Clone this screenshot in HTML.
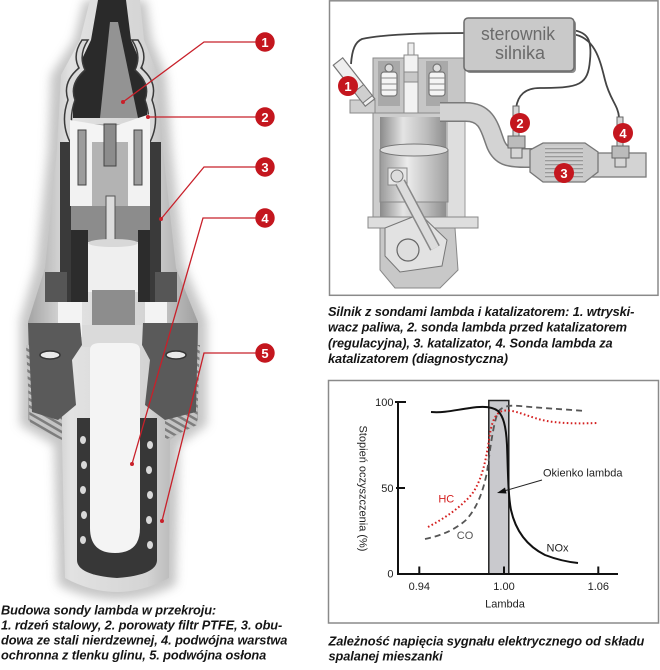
<!DOCTYPE html>
<html><head><meta charset="utf-8">
<style>
html,body{margin:0;padding:0;background:#fff;}
body{width:660px;height:670px;overflow:hidden;}
svg{display:block;}
.cap{font-family:"Liberation Sans",Arial,sans-serif;font-weight:bold;font-style:italic;font-size:12.8px;fill:#151515;letter-spacing:-0.1px;}
.ch{font-family:"Liberation Sans",Arial,sans-serif;font-size:11px;fill:#222;}
.num{font-family:"Liberation Sans",Arial,sans-serif;font-weight:bold;font-size:13px;fill:#fff;}
</style></head>
<body>
<svg width="660" height="670" viewBox="0 0 660 670" xmlns="http://www.w3.org/2000/svg">
<defs>
 <filter id="blur" x="-30%" y="-10%" width="160%" height="120%"><feGaussianBlur stdDeviation="5"/></filter>
 <linearGradient id="body" x1="0" x2="1" y1="0" y2="0">
  <stop offset="0" stop-color="#a4a4a4"/><stop offset="0.25" stop-color="#e2e2e2"/>
  <stop offset="0.7" stop-color="#d4d4d4"/><stop offset="1" stop-color="#a0a0a0"/>
 </linearGradient>
 <linearGradient id="cyl" x1="0" x2="1">
  <stop offset="0" stop-color="#8a8a8a"/><stop offset="0.35" stop-color="#e4e4e4"/>
  <stop offset="0.7" stop-color="#bdbdbd"/><stop offset="1" stop-color="#8e8e8e"/>
 </linearGradient>
 <linearGradient id="pist" x1="0" x2="1">
  <stop offset="0" stop-color="#9a9a9a"/><stop offset="0.4" stop-color="#ececec"/>
  <stop offset="1" stop-color="#a0a0a0"/>
 </linearGradient>
 <pattern id="thr" width="6" height="6" patternUnits="userSpaceOnUse" patternTransform="rotate(30)">
  <rect width="6" height="6" fill="#c4c4c4"/><rect width="6" height="2.5" fill="#7d7d7d"/>
 </pattern>
 <pattern id="cat" width="4" height="4" patternUnits="userSpaceOnUse">
  <rect width="4" height="4" fill="#cfcfcf"/><rect width="4" height="1.3" fill="#9a9a9a"/>
 </pattern>
</defs>

<!-- ============ LEFT: sensor cross-section ============ -->
<path d="M84,0 L146,0 L152,40 L166,75 L172,150 L184,265 L207,320 L207,425 L179,445 L176,585 Q117,614 58,585 L54,445 L20,425 L20,320 L36,265 L48,150 L51,75 L74,40 Z" fill="#b8b8b8" filter="url(#blur)" opacity="0.8"/>
<path d="M90,0 L140,0 L144,40 L158,75 L163,150 L176,268 L198,322 L198,420 L170,440 L169,578 Q117,606 65,578 L62,440 L28,420 L28,322 L45,268 L57,150 L61,75 L80,40 Z" fill="url(#body)"/>
<!-- cable -->
<path d="M98,0 L126,0 L131,40 L147,78 L147,118 L73,118 L73,78 L91,40 Z" fill="#2a2a2a"/>
<path d="M110,22 L118,22 L138,118 L100,118 Z" fill="#939393"/>
<!-- crimped sleeve -->
<path d="M82,40 Q72,55 79,68 Q62,82 68,100 Q60,122 70,142 L77,142 Q67,122 75,100 Q69,84 85,70 Q78,55 88,40 Z" fill="#dadada" stroke="#3a3a3a" stroke-width="1.5"/>
<path d="M138,40 Q148,55 141,68 Q158,82 152,100 Q160,122 150,142 L143,142 Q153,122 145,100 Q151,84 135,70 Q142,55 132,40 Z" fill="#dadada" stroke="#3a3a3a" stroke-width="1.5"/>
<!-- walls -->
<rect x="60" y="142" width="11" height="160" fill="#3a3a3a"/>
<rect x="150" y="142" width="11" height="160" fill="#3a3a3a"/>
<!-- insulators -->
<rect x="92" y="124" width="36" height="84" fill="#b3b3b3"/>
<path d="M70,120 L112,127 L150,114 L150,142 L70,142 Z" fill="#f4f4f4"/>
<rect x="70" y="140" width="22" height="66" fill="#f2f2f2"/>
<rect x="128" y="140" width="22" height="66" fill="#f2f2f2"/>
<rect x="78" y="130" width="8" height="55" fill="#9c9c9c" stroke="#444" stroke-width="1"/>
<rect x="134" y="130" width="8" height="55" fill="#9c9c9c" stroke="#444" stroke-width="1"/>
<rect x="104" y="124" width="12" height="42" fill="#8c8c8c" stroke="#444" stroke-width="1"/>
<rect x="71" y="206" width="79" height="42" fill="#8c8c8c"/>
<rect x="71" y="230" width="17" height="72" fill="#2c2c2c"/>
<rect x="138" y="230" width="12" height="72" fill="#2c2c2c"/>
<rect x="106" y="196" width="9" height="46" fill="#dcdcdc" stroke="#555" stroke-width="1"/>
<!-- upper ceramic -->
<rect x="88" y="242" width="50" height="50" fill="#efefef"/>
<ellipse cx="113" cy="243" rx="25" ry="4" fill="#d8d8d8"/>
<rect x="92" y="290" width="43" height="36" fill="#8d8d8d"/>
<!-- small nuts -->
<rect x="45" y="272" width="22" height="30" fill="#565656"/>
<rect x="155" y="272" width="22" height="30" fill="#565656"/>
<!-- side white blocks -->
<rect x="58" y="302" width="24" height="35" fill="#f3f3f3"/>
<rect x="145" y="302" width="22" height="35" fill="#f3f3f3"/>
<rect x="82" y="325" width="63" height="22" fill="#dadada"/>
<!-- threads -->
<path d="M26,345 L62,345 L62,440 L30,425 Z" fill="url(#thr)"/>
<path d="M165,345 L200,345 L197,425 L165,440 Z" fill="url(#thr)"/>
<!-- big hex nut -->
<path d="M28,323 L80,323 L82,345 L72,360 L76,405 L58,420 L32,412 Z" fill="#5a5a5a"/>
<path d="M198,323 L143,323 L142,345 L150,360 L145,405 L165,420 L196,412 Z" fill="#5a5a5a"/>
<ellipse cx="50" cy="355" rx="10" ry="4" fill="#e8e8e8" stroke="#333" stroke-width="1.5"/>
<ellipse cx="176" cy="355" rx="10" ry="4" fill="#e8e8e8" stroke="#333" stroke-width="1.5"/>
<!-- lower tube -->
<path d="M77,418 L157,418 L157,560 Q157,575 117,578 Q77,575 77,560 Z" fill="#373737"/>
<g fill="#d8d8d8">
 <ellipse cx="83" cy="440" rx="3" ry="4"/><ellipse cx="84" cy="465" rx="3" ry="4"/><ellipse cx="83" cy="490" rx="3" ry="4"/><ellipse cx="84" cy="515" rx="3" ry="4"/><ellipse cx="83" cy="540" rx="3" ry="4"/>
 <ellipse cx="150" cy="445" rx="3" ry="4"/><ellipse cx="149" cy="470" rx="3" ry="4"/><ellipse cx="150" cy="495" rx="3" ry="4"/><ellipse cx="149" cy="520" rx="3" ry="4"/><ellipse cx="150" cy="545" rx="3" ry="4"/>
</g>
<path d="M90,350 Q90,343 100,343 L130,343 Q140,343 140,350 L140,528 Q140,553 115,553 Q90,553 90,528 Z" fill="#f4f4f4"/>
<!-- red callouts -->
<g stroke="#c8202a" stroke-width="1.3" fill="none">
 <polyline points="123,102 204,42 256,42"/>
 <polyline points="148,117 256,117"/>
 <polyline points="161,219 204,167 256,167"/>
 <polyline points="132,464 203,218 256,218"/>
 <polyline points="162,521 204,353 256,353"/>
</g>
<g fill="#c8202a">
 <circle cx="123" cy="102" r="2"/><circle cx="148" cy="117" r="2"/><circle cx="161" cy="219" r="2"/><circle cx="132" cy="464" r="2"/><circle cx="162" cy="521" r="2"/>
</g>
<g fill="#c4161e">
 <circle cx="265" cy="42" r="9.7"/><circle cx="265" cy="117" r="9.7"/><circle cx="265" cy="167" r="9.7"/><circle cx="265" cy="218" r="9.7"/><circle cx="265" cy="353" r="9.7"/>
</g>
<g class="num" text-anchor="middle">
 <text x="265" y="47">1</text><text x="265" y="122">2</text><text x="265" y="172">3</text><text x="265" y="223">4</text><text x="265" y="358">5</text>
</g>

<!-- ============ RIGHT TOP: engine ============ -->
<rect x="329.5" y="0.8" width="328.5" height="294.5" fill="#fff" stroke="#8a8a8a" stroke-width="1.5"/>
<!-- wires -->
<g stroke="#444" stroke-width="1.8" fill="none">
 <path d="M466,33 C420,33 380,35 362,39 C355,42 352,50 351,64"/>
 <path d="M572,30 C588,32 592,40 590,60 C588,85 580,88 540,88 C525,88 518,95 516,108"/>
 <path d="M572,34 C595,37 600,60 605,80 C610,100 618,105 619,117"/>
</g>
<!-- head -->
<rect x="373" y="58" width="92" height="58" fill="#c6c6c6" stroke="#8a8a8a" stroke-width="1"/>
<rect x="378" y="61" width="22" height="45" fill="#a9a9a9"/>
<rect x="426" y="61" width="22" height="45" fill="#a9a9a9"/>
<g stroke="#777" stroke-width="1.2" fill="#f4f4f4">
 <rect x="381" y="72" width="16" height="24" rx="3"/><rect x="429" y="72" width="16" height="24" rx="3"/>
 <circle cx="389" cy="68" r="4" fill="#ddd"/><circle cx="437" cy="68" r="4" fill="#ddd"/>
</g>
<g stroke="#888" stroke-width="1">
 <line x1="381" y1="78" x2="397" y2="78"/><line x1="381" y1="84" x2="397" y2="84"/><line x1="381" y1="90" x2="397" y2="90"/>
 <line x1="429" y1="78" x2="445" y2="78"/><line x1="429" y1="84" x2="445" y2="84"/><line x1="429" y1="90" x2="445" y2="90"/>
</g>
<rect x="408" y="43" width="6" height="12" fill="#eee" stroke="#888" stroke-width="1"/>
<rect x="404" y="55" width="14" height="60" fill="#f2f2f2" stroke="#888" stroke-width="1"/>
<rect x="404" y="72" width="14" height="10" fill="#c8c8c8" stroke="#888" stroke-width="1"/>
<!-- intake port -->
<rect x="350" y="100" width="25" height="13" fill="#cfcfcf" stroke="#888" stroke-width="1"/>
<!-- injector -->
<g transform="translate(354,82) rotate(52)">
 <rect x="-26" y="-6" width="52" height="12" fill="#efefef" stroke="#777" stroke-width="1.2"/>
 <rect x="8" y="-6" width="14" height="12" fill="#cfcfcf" stroke="#777" stroke-width="1"/>
</g>
<!-- block -->
<rect x="373" y="113" width="92" height="105" fill="#cdcdcd" stroke="#8a8a8a" stroke-width="1"/>
<rect x="380" y="117" width="66" height="100" fill="url(#cyl)"/>
<rect x="447" y="113" width="18" height="105" fill="#dedede" stroke="#999" stroke-width="1"/>
<rect x="380" y="150" width="68" height="52" fill="url(#pist)" stroke="#888" stroke-width="1"/>
<ellipse cx="414" cy="150" rx="34" ry="6" fill="#dedede" stroke="#777" stroke-width="1"/>
<rect x="388" y="168" width="19" height="17" fill="#e6e6e6" stroke="#888" stroke-width="1"/>
<circle cx="397" cy="176" r="6" fill="#ddd" stroke="#777" stroke-width="1"/>
<!-- exhaust pipe -->
<path d="M440,112 L466,112 C488,112 490,130 496,145 C501,156 508,158 525,158 L540,158" fill="none" stroke="#7a7a7a" stroke-width="20"/>
<path d="M440,112 L466,112 C488,112 490,130 496,145 C501,156 508,158 525,158 L540,158" fill="none" stroke="#d3d3d3" stroke-width="17"/>
<rect x="588" y="153" width="58" height="24" fill="#d3d3d3" stroke="#7a7a7a" stroke-width="1.3"/>
<!-- catalyst -->
<path d="M530,150 L543,143 L585,143 L598,152 L598,172 L585,182 L543,182 L530,172 Z" fill="#c9c9c9" stroke="#777" stroke-width="1.3"/>
<rect x="545" y="146" width="38" height="34" fill="url(#cat)"/>
<!-- base and crank -->
<rect x="368" y="217" width="110" height="11" fill="#dedede" stroke="#888" stroke-width="1"/>
<path d="M380,228 L455,228 L458,270 L440,288 L395,288 L380,270 Z" fill="#c8c8c8" stroke="#888" stroke-width="1"/>
<path d="M385,228 L420,214 L447,240 L442,266 L400,272 L385,256 Z" fill="#e2e2e2" stroke="#777" stroke-width="1"/>
<line x1="400" y1="182" x2="435" y2="248" stroke="#888" stroke-width="11"/>
<line x1="400" y1="182" x2="435" y2="248" stroke="#dcdcdc" stroke-width="8"/>
<circle cx="408" cy="250" r="11" fill="#dedede" stroke="#666" stroke-width="1.2"/>
<!-- sensors 2 & 4 -->
<g stroke="#666" stroke-width="1" fill="#d6d6d6">
 <rect x="513" y="106" width="6" height="30"/>
 <rect x="508" y="136" width="17" height="12" fill="#bbb"/>
 <rect x="511" y="148" width="11" height="10"/>
 <rect x="617" y="117" width="6" height="30"/>
 <rect x="612" y="146" width="17" height="12" fill="#bbb"/>
 <rect x="615" y="158" width="11" height="9"/>
</g>
<!-- controller -->
<rect x="466" y="20" width="110" height="53" rx="4" fill="#8d8d8d"/>
<rect x="464" y="18" width="110" height="53" rx="4" fill="#c9c9c9" stroke="#6a6a6a" stroke-width="1.5"/>
<text x="518" y="40" text-anchor="middle" font-family="Liberation Sans, Arial, sans-serif" font-size="18" fill="#6b6b6b" textLength="74" lengthAdjust="spacingAndGlyphs">sterownik</text>
<text x="520" y="59" text-anchor="middle" font-family="Liberation Sans, Arial, sans-serif" font-size="18" fill="#6b6b6b" textLength="50" lengthAdjust="spacingAndGlyphs">silnika</text>
<!-- numbered circles -->
<g fill="#c4161e">
 <circle cx="348" cy="86" r="10"/><circle cx="520" cy="123" r="10"/><circle cx="564" cy="173" r="10"/><circle cx="623" cy="133" r="10"/>
</g>
<g class="num" text-anchor="middle">
 <text x="348" y="91">1</text><text x="520" y="128">2</text><text x="564" y="178">3</text><text x="623" y="138">4</text>
</g>

<!-- captions -->
<g class="cap">
 <text x="1" y="614.7">Budowa sondy lambda w przekroju:</text>
 <text x="1" y="629.7">1. rdzeń stalowy, 2. porowaty filtr PTFE, 3. obu-</text>
 <text x="1" y="644.7">dowa ze stali nierdzewnej, 4. podwójna warstwa</text>
 <text x="1" y="659.7">ochronna z tlenku glinu, 5. podwójna osłona</text>
 <text x="328" y="316">Silnik z sondami lambda i katalizatorem: 1. wtryski-</text>
 <text x="328" y="331.7">wacz paliwa, 2. sonda lambda przed katalizatorem</text>
 <text x="328" y="347.3">(regulacyjna), 3. katalizator, 4. Sonda lambda za</text>
 <text x="328" y="363">katalizatorem (diagnostyczna)</text>
 <text x="328.5" y="645.7">Zależność napięcia sygnału elektrycznego od składu</text>
 <text x="328.5" y="660.7">spalanej mieszanki</text>
</g>

<!-- ============ RIGHT BOTTOM: chart ============ -->
<rect x="328.5" y="380.5" width="330" height="242.5" fill="#fff" stroke="#8a8a8a" stroke-width="1.5"/>
<rect x="488.8" y="400.5" width="20" height="173.5" fill="#c9c9cd" stroke="#222" stroke-width="1.5"/>
<g stroke="#111" stroke-width="2" fill="none">
 <line x1="398" y1="401" x2="398" y2="575"/>
 <line x1="397" y1="574" x2="618" y2="574"/>
 <line x1="395" y1="402" x2="406" y2="402"/>
 <line x1="396" y1="488" x2="405" y2="488"/>
 <line x1="419.3" y1="566.5" x2="419.3" y2="574"/>
 <line x1="504" y1="566.5" x2="504" y2="574"/>
 <line x1="598.3" y1="566.5" x2="598.3" y2="574"/>
</g>
<path d="M425,539 C440,536 455,530 466,520 C477,508 483,492 487,472 C490,450 493,425 498,412 C502,406 510,405 520,406 C540,408 560,409 585,411" fill="none" stroke="#555" stroke-width="1.8" stroke-dasharray="6 4"/>
<path d="M428,527 C445,518 460,508 472,494 C482,480 486,460 489,440 C491,425 494,414 502,411 C512,409 522,414 535,418 C550,423 570,424 598,423" fill="none" stroke="#d42020" stroke-width="2" stroke-dasharray="1.6 2.4"/>
<path d="M431,412 C445,413 455,410 470,408 C482,406 492,406 498,411 C503,416 506,425 507,445 C508,470 508,495 511,510 C515,528 525,545 545,555 C558,560 568,562 578,563" fill="none" stroke="#111" stroke-width="2"/>
<line x1="542" y1="480" x2="504" y2="491" stroke="#222" stroke-width="1"/>
<path d="M497,493 L505,487.5 L506.5,493.5 Z" fill="#111"/>
<g class="ch">
 <text x="393.5" y="405.8" text-anchor="end">100</text>
 <text x="393.5" y="491.8" text-anchor="end">50</text>
 <text x="393.5" y="577.6" text-anchor="end">0</text>
 <text x="419.3" y="590" text-anchor="middle">0.94</text>
 <text x="504" y="590" text-anchor="middle">1.00</text>
 <text x="598.3" y="590" text-anchor="middle">1.06</text>
 <text x="505" y="607.3" text-anchor="middle">Lambda</text>
 <text x="543" y="476.7">Okienko lambda</text>
 <text x="446.3" y="502.3" text-anchor="middle" fill="#d42020">HC</text>
 <text x="465" y="539" text-anchor="middle" fill="#555">CO</text>
 <text x="557.5" y="551.7" text-anchor="middle">NOx</text>
 <text transform="translate(359.5,488.5) rotate(90)" text-anchor="middle">Stopień oczyszczenia (%)</text>
</g>
</svg>
</body></html>
